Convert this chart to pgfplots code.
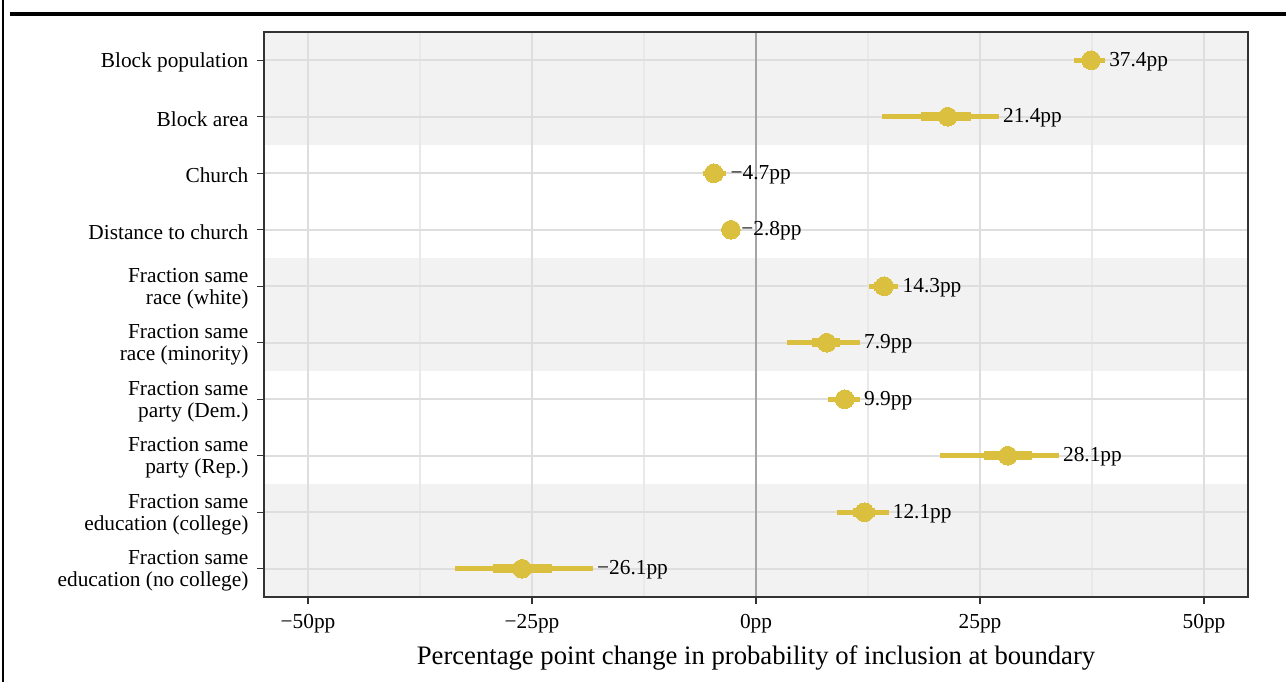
\documentclass[border=0pt]{standalone}
\usepackage{pgfplots}
\pgfplotsset{compat=1.18}
\usepackage{pgfplotstable}
\usepackage{fontspec}
\setmainfont{Liberation Serif}
\definecolor{gold}{RGB}{219,191,62}
\definecolor{band}{RGB}{242,242,242}
\definecolor{gmaj}{RGB}{222,222,222}
\definecolor{gmin}{RGB}{233,233,233}
\definecolor{zeroline}{RGB}{165,165,165}
\definecolor{frame}{RGB}{51,51,51}

\pgfplotstableread{
y est lo hi lo2 hi2 lab
1 37.4 35.5 38.95 36.5 38.3 37.4pp
2 21.4 14.1 27.1 18.4 24.0 21.4pp
3 -4.7 -5.9 -3.3 -5.5 -3.9 −4.7pp
4 -2.8 -3.5 -2.1 -3.2 -2.4 −2.8pp
5 14.3 12.65 15.9 13.2 15.3 14.3pp
6 7.9 3.5 11.6 6.2 9.4 7.9pp
7 9.9 8.0 11.6 8.9 10.9 9.9pp
8 28.1 20.5 33.8 25.4 30.8 28.1pp
9 12.1 9.0 14.8 10.8 13.3 12.1pp
10 -26.1 -33.6 -18.2 -29.4 -22.8 −26.1pp
}\data

\begin{document}
\begin{tikzpicture}
\useasboundingbox (-198pt,-63.75pt) rectangle (766.5pt,447.75pt);
\begin{axis}[
  scale only axis, width=738pt, height=423.75pt,
  xmin=-54.91, xmax=54.91, ymin=0.5, ymax=10.5, y dir=reverse,
  clip=false, axis on top,
  axis line style={draw=frame, line width=1.2pt},
  xtick={-50,-25,0,25,50},
  xticklabels={−50pp,−25pp,0pp,25pp,50pp},
  ytick={1,...,10},
  yticklabels={{Block population},{Block area},{Church},{Distance to church},
    {Fraction same\\race (white)},{Fraction same\\race (minority)},
    {Fraction same\\party (Dem.)},{Fraction same\\party (Rep.)},
    {Fraction same\\education (college)},{Fraction same\\education (no college)}},
  xtick pos=lower, ytick pos=left,
  tick align=outside, major tick length=5pt,
  tick style={draw=frame, line width=1.1pt},
  ticklabel style={font=\fontsize{16}{16.5}\selectfont, text=black},
  yticklabel style={align=right, inner sep=2pt, xshift=-4.5pt, yshift=-1.5pt},
  xticklabel style={yshift=-4.5pt},
  xlabel={Percentage point change in probability of inclusion at boundary},
  every axis x label/.style={at={(axis description cs:0.5,0)}, anchor=center, yshift=-45.5pt,
    font=\fontsize{20}{22}\selectfont},
]
% bands
\fill[band] (axis cs:-54.91,0.5) rectangle (axis cs:54.91,2.5);
\fill[band] (axis cs:-54.91,4.5) rectangle (axis cs:54.91,6.5);
\fill[band] (axis cs:-54.91,8.5) rectangle (axis cs:54.91,10.5);
% minor grid
\foreach \x in {-37.5,-12.5,12.5,37.5} {
  \edef\tmp{\noexpand\draw[gmin, line width=1.1pt] (axis cs:\x,0.5) -- (axis cs:\x,10.5);}\tmp
}
% major grid
\foreach \x in {-50,-25,25,50} {
  \edef\tmp{\noexpand\draw[gmaj, line width=1.6pt] (axis cs:\x,0.5) -- (axis cs:\x,10.5);}\tmp
}
\foreach \yy in {1,...,10} {
  \edef\tmp{\noexpand\draw[gmaj, line width=1.6pt] (axis cs:-54.91,\yy) -- (axis cs:54.91,\yy);}\tmp
}
\draw[zeroline, line width=2.2pt] (axis cs:0,0.5) -- (axis cs:0,10.5);
% thin CI
\addplot[only marks, mark=none, forget plot,
  error bars/.cd, x dir=both, x explicit, error mark=none,
  error bar style={draw=gold, line width=3.9pt, line cap=butt}]
  table[x=est, y=y, x error minus expr=\thisrow{est}-\thisrow{lo}, x error plus expr=\thisrow{hi}-\thisrow{est}] {\data};
% thick CI
\addplot[only marks, mark=none, forget plot,
  error bars/.cd, x dir=both, x explicit, error mark=none,
  error bar style={draw=gold, line width=6.8pt, line cap=butt}]
  table[x=est, y=y, x error minus expr=\thisrow{est}-\thisrow{lo2}, x error plus expr=\thisrow{hi2}-\thisrow{est}] {\data};
% points
\addplot[gold, only marks, mark=*, mark size=7pt, mark options={draw=gold, fill=gold, line width=0pt}]
  table[x=est, y=y] {\data};
% labels
\addplot[only marks, mark=none, point meta=explicit symbolic,
  nodes near coords,
  every node near coord/.append style={anchor=west, inner sep=1.5pt, xshift=1.5pt, yshift=-1pt, text=black,
    font=\fontsize{16}{16.5}\selectfont}]
  table[x=hi, y=y, meta=lab] {\data};
\end{axis}
\draw[black, line width=2.4pt] (-190.5pt,437.25pt) -- (766.5pt,437.25pt);
\draw[black, line width=1.5pt] (-195.75pt,-63.75pt) -- (-195.75pt,447.75pt);
\end{tikzpicture}
\end{document}
